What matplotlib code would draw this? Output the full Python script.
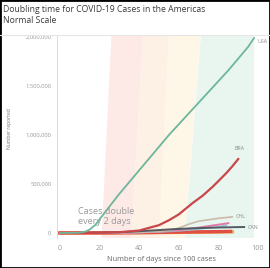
import matplotlib.pyplot as plt
import numpy as np

plt.rcParams['font.family'] = ['Open Sans', 'DejaVu Sans']

# Country series (days since 100 cases -> cumulative cases)
usa_days = [0, 5, 10, 13, 15, 18, 20, 25, 30, 35, 40, 45, 50, 55, 60, 65, 70, 75, 80, 85, 90, 95, 98]
usa_cases = [100, 600, 4000, 15000, 35000, 85000, 140000, 270000, 400000, 520000, 640000, 760000,
             880000, 1000000, 1110000, 1220000, 1330000, 1440000, 1550000, 1660000, 1780000,
             1900000, 1990000]

bra_days = [0, 10, 20, 30, 40, 50, 55, 60, 67, 72, 77, 80, 84, 87, 90]
bra_cases = [100, 600, 2500, 8000, 25000, 80000, 130000, 190000, 306000, 380000, 470000, 530000,
             612000, 680000, 755000]

chl_days = [0, 20, 30, 40, 50, 55, 60, 65, 70, 75, 80, 85, 87]
chl_cases = [100, 1000, 3000, 7000, 15000, 25000, 50000, 90000, 120000, 135000, 150000, 160000, 165000]

mex_days = [0, 20, 30, 40, 50, 60, 70, 75, 80, 85]
mex_cases = [100, 1000, 3000, 6000, 15000, 30000, 55000, 70000, 85000, 100000]

per_days = [0, 20, 30, 40, 50, 60, 70, 80, 84]
per_cases = [100, 900, 2500, 5000, 11000, 22000, 40000, 62000, 78000]

can_days = [0, 10, 20, 30, 40, 50, 60, 70, 80, 90, 93]
can_cases = [100, 600, 2500, 8000, 18000, 30000, 42000, 50000, 56000, 60000, 61000]

ecu_days = [0, 20, 40, 60, 80, 86]
ecu_cases = [100, 800, 4000, 9000, 14000, 16000]

col_days = [0, 20, 40, 60, 80, 87]
col_cases = [100, 500, 2500, 6000, 10000, 12000]

# Doubling-time bands: edge positions (days) at the bottom and the top of the chart
band_labels = ['2 days', '3 days', '4 days', '5 days']
band_colors = ['#fdeae7', '#fdf0e4', '#fef6e6', '#e9f5ef']
edge_bottom = [21, 36, 50, 63, 98]
edge_top = [26, 42, 55, 71, 98]

yticks = [0, 500000, 1000000, 1500000, 2000000]
xticks = [0, 20, 40, 60, 80, 100]

fig = plt.figure(figsize=(2.7, 2.68), dpi=100)
ax = fig.add_axes([0.211, 0.112, 0.774, 0.757])

ylo, yhi = -51000, 2020000
for i in range(len(band_labels)):
    ax.fill([edge_bottom[i], edge_bottom[i + 1], edge_top[i + 1], edge_top[i]],
            [ylo, ylo, yhi, yhi], color=band_colors[i], lw=0, zorder=0)

ax.plot(col_days, col_cases, color='#f39a4c', lw=2.4, zorder=2)
ax.plot(ecu_days, ecu_cases, color='#e04e44', lw=2.4, zorder=2)
ax.plot(per_days, per_cases, color='#8fc7dd', lw=1.2, zorder=2)
ax.plot(mex_days, mex_cases, color='#e07aa6', lw=1.4, zorder=2)
ax.plot(chl_days, chl_cases, color='#c9bba9', lw=1.2, zorder=2)
ax.plot(can_days, can_cases, color='#555b62', lw=1.4, zorder=3)
ax.plot(bra_days, bra_cases, color='#c8474a', lw=1.6, zorder=3)
ax.plot(usa_days, usa_cases, color='#6cb79c', lw=1.3, zorder=3)

lab = dict(fontsize=3.8, color='#888888', va='center')
ax.text(usa_days[-1] + 1.5, usa_cases[-1] - 40000, 'USA', **lab)
ax.text(bra_days[-1] - 2, bra_cases[-1] + 110000, 'BRA', **lab)
ax.text(chl_days[-1] + 1.5, chl_cases[-1] + 5000, 'CHL', **lab)
ax.text(can_days[-1] + 1.5, can_cases[-1] - 5000, 'CAN', **lab)

ax.text(9, 170000, 'Cases double\nevery 2 days', fontsize=6.6, color='#9a9a9a',
        va='center', ha='left', linespacing=1.15, zorder=4)

ax.set_xlim(-1.5, 104)
ax.set_ylim(ylo, yhi)
ax.set_xticks(xticks)
ax.set_yticks(yticks)
ax.set_yticklabels([f'{v:,}' for v in yticks])
ax.tick_params(axis='both', length=0, colors='#999999')
ax.tick_params(axis='y', labelsize=4.2, pad=4)
ax.tick_params(axis='x', labelsize=5.2, pad=5)
for s in ['top', 'right', 'bottom']:
    ax.spines[s].set_visible(False)
ax.spines['left'].set_color('#d6d6d6')
ax.spines['left'].set_linewidth(0.6)

ax.set_xlabel('Number of days since 100 cases', fontsize=5.2, color='#666666', labelpad=3)
fig.text(0.035, 0.52, 'Number reported', rotation=90, fontsize=3.6, color='#777777',
         ha='center', va='center')

fig.text(0.012, 0.965, 'Doubling time for COVID-19 Cases in the Americas', fontsize=6.2,
         color='#3a3a3a', ha='left', va='center')
fig.text(0.012, 0.925, 'Normal Scale', fontsize=6.2, color='#3a3a3a', ha='left', va='center')

fig.add_artist(plt.Line2D([0, 1], [0.87, 0.87], color='#e6e6e6', lw=0.8, transform=fig.transFigure))
fig.add_artist(plt.Rectangle((0, 0), 1, 1, fill=False, ec='black', lw=2.0, transform=fig.transFigure))

fig.savefig('out.png', dpi=100)
